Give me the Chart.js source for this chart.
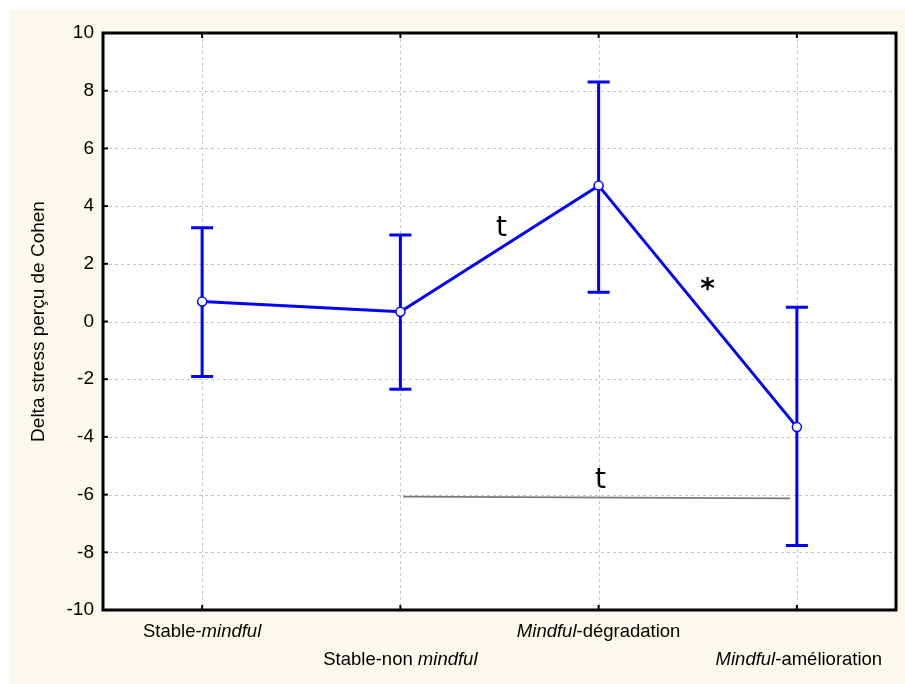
<!DOCTYPE html>
<html>
<head>
<meta charset="utf-8">
<script src="https://cdn.jsdelivr.net/npm/chart.js@4/dist/chart.umd.min.js"></script>
<style>
  html, body { margin: 0; padding: 0; background: #ffffff; }
  #wrap { width: 905px; height: 684px; position: relative; }
</style>
</head>
<body>
<div id="wrap"><canvas id="c" width="905" height="684"></canvas></div>
<script>
// ---- data ----
const categories = ['Stable-mindful', 'Stable-non mindful', 'Mindful-dégradation', 'Mindful-amélioration'];
const means = [0.69, 0.34, 4.71, -3.66];
const upperBars = [3.25, 3.0, 8.3, 0.49];
const lowerBars = [-1.91, -2.35, 1.01, -7.76];
const yMin = -10;
const yMax = 10;
const yStep = 2;
const yTitle = 'Delta stress perçu de Cohen';
const italicWord = 'mindful';
const annotationTexts = ['t', '*', 't'];
const annotationX = [1.51, 2.55, 2.01];
const annotationY = [3.2, 1.05, -5.52];
const bracketFrom = [1.015, -6.07];
const bracketTo = [2.965, -6.13];

const BLUE = '#0000ff';

const decorPlugin = {
  id: 'decor',
  beforeDraw(chart) {
    const ctx = chart.ctx;
    const a = chart.chartArea;
    ctx.save();
    ctx.fillStyle = '#fdf8ee';
    ctx.fillRect(10, 10, chart.width - 10, chart.height - 10);
    ctx.fillStyle = '#ffffff';
    ctx.fillRect(a.left, a.top, a.right - a.left, a.bottom - a.top);
    // dashed grid
    const xs = chart.scales.x, ys = chart.scales.y;
    ctx.strokeStyle = '#c4c4c4';
    ctx.lineWidth = 1;
    ctx.setLineDash([3, 3]);
    ys.ticks.forEach(t => {
      const y = Math.round(ys.getPixelForValue(t.value)) + 0.5;
      ctx.beginPath(); ctx.moveTo(a.left, y); ctx.lineTo(a.right, y); ctx.stroke();
    });
    categories.forEach((c, i) => {
      const x = Math.round(xs.getPixelForValue(i)) + 0.5;
      ctx.beginPath(); ctx.moveTo(x, a.top); ctx.lineTo(x, a.bottom); ctx.stroke();
    });
    ctx.setLineDash([]);
    ctx.restore();
  },
  beforeDatasetsDraw(chart) {
    const ctx = chart.ctx;
    const xs = chart.scales.x, ys = chart.scales.y;
    ctx.save();
    // bracket line
    ctx.strokeStyle = '#7a7a7a';
    ctx.lineWidth = 1.6;
    ctx.beginPath();
    ctx.moveTo(xs.getPixelForValue(bracketFrom[0]), ys.getPixelForValue(bracketFrom[1]));
    ctx.lineTo(xs.getPixelForValue(bracketTo[0]), ys.getPixelForValue(bracketTo[1]));
    ctx.stroke();
    // error bars
    ctx.strokeStyle = BLUE;
    ctx.lineWidth = 3;
    means.forEach((m, i) => {
      const x = xs.getPixelForValue(i);
      const yu = ys.getPixelForValue(upperBars[i]);
      const yl = ys.getPixelForValue(lowerBars[i]);
      ctx.beginPath();
      ctx.moveTo(x, yu); ctx.lineTo(x, yl);
      ctx.moveTo(x - 11, yu); ctx.lineTo(x + 11, yu);
      ctx.moveTo(x - 11, yl); ctx.lineTo(x + 11, yl);
      ctx.stroke();
    });
    ctx.restore();
  },
  afterDraw(chart) {
    const ctx = chart.ctx;
    const a = chart.chartArea;
    const xs = chart.scales.x, ys = chart.scales.y;
    ctx.save();
    // frame
    ctx.strokeStyle = '#000000';
    ctx.lineWidth = 3;
    ctx.strokeRect(a.left, a.top, a.right - a.left, a.bottom - a.top);
    // inward tick marks
    ctx.lineWidth = 2;
    ys.ticks.forEach(t => {
      const y = ys.getPixelForValue(t.value);
      ctx.beginPath(); ctx.moveTo(a.left, y); ctx.lineTo(a.left + 5, y); ctx.stroke();
    });
    categories.forEach((c, i) => {
      const x = xs.getPixelForValue(i);
      ctx.beginPath();
      ctx.moveTo(x, a.bottom); ctx.lineTo(x, a.bottom - 5);
      ctx.moveTo(x, a.top); ctx.lineTo(x, a.top + 5);
      ctx.stroke();
    });
    // category labels with italic word
    ctx.fillStyle = '#000000';
    ctx.textBaseline = 'middle';
    ctx.textAlign = 'left';
    const normal = '18.5px "Liberation Sans", Arial, sans-serif';
    const italic = 'italic 18.5px "Liberation Sans", Arial, sans-serif';
    categories.forEach((c, i) => {
      const idx = c.toLowerCase().indexOf(italicWord);
      const parts = [];
      if (idx > 0) parts.push([c.slice(0, idx), normal]);
      parts.push([c.slice(idx, idx + italicWord.length), italic]);
      if (idx + italicWord.length < c.length) parts.push([c.slice(idx + italicWord.length), normal]);
      let w = 0;
      parts.forEach(p => { ctx.font = p[1]; w += ctx.measureText(p[0]).width; });
      let x = xs.getPixelForValue(i) - w / 2 + (i === 3 ? 2 : 0);
      const y = a.bottom + (i % 2 === 0 ? 22 : 50);
      parts.forEach(p => { ctx.font = p[1]; ctx.fillText(p[0], x, y); x += ctx.measureText(p[0]).width; });
    });
    // annotations
    ctx.textAlign = 'center';
    ctx.textBaseline = 'middle';
    annotationTexts.forEach((t, i) => {
      ctx.font = (t === '*' ? 'bold 28px' : '28px') + ' "DejaVu Sans", sans-serif';
      ctx.fillText(t, xs.getPixelForValue(annotationX[i]), ys.getPixelForValue(annotationY[i]));
    });
    ctx.restore();
  }
};

new Chart(document.getElementById('c'), {
  type: 'line',
  data: {
    labels: categories,
    datasets: [{
      data: means,
      borderColor: BLUE,
      borderWidth: 3,
      pointRadius: 4.5,
      pointBorderWidth: 1.5,
      pointBackgroundColor: '#ffffff',
      pointBorderColor: BLUE,
      tension: 0,
      fill: false
    }]
  },
  options: {
    responsive: false,
    animation: false,
    devicePixelRatio: 1,
    layout: { padding: { left: 0, top: 33, right: 9, bottom: 0 } },
    plugins: { legend: { display: false }, tooltip: { enabled: false } },
    scales: {
      x: {
        type: 'category',
        offset: true,
        grid: { display: false, drawTicks: false },
        border: { display: false },
        ticks: { display: false },
        afterFit(s) { s.height = 74; }
      },
      y: {
        min: yMin,
        max: yMax,
        grid: { display: false, drawTicks: false },
        border: { display: false },
        ticks: {
          stepSize: yStep,
          padding: 9,
          color: '#000000',
          font: { family: '"Liberation Sans", Arial, sans-serif', size: 19 }
        },
        title: {
          display: true,
          text: yTitle,
          color: '#000000',
          padding: { top: 27, bottom: 0 },
          font: { family: '"Liberation Sans", Arial, sans-serif', size: 19 }
        },
        afterFit(s) { s.width = 103; }
      }
    }
  },
  plugins: [decorPlugin]
});
</script>
</body>
</html>
